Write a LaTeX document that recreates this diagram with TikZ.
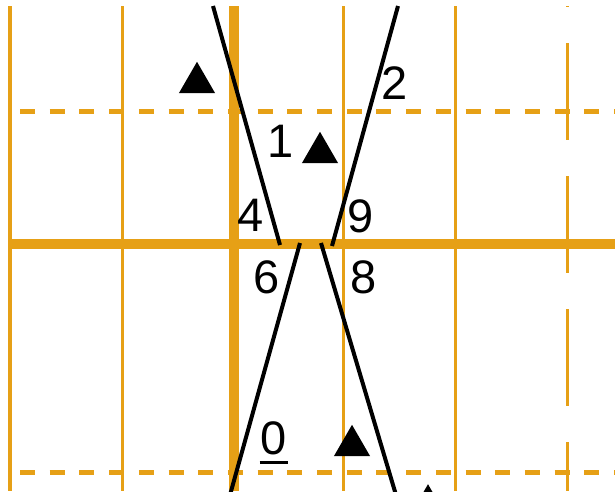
\documentclass[tikz,border=0pt]{standalone}
\usepackage{fontspec}
\setmainfont{Liberation Sans}
\usetikzlibrary{shapes.geometric}
\definecolor{gridor}{RGB}{230,160,22}
\begin{document}
\begin{tikzpicture}[x=1pt,y=-1pt,
  thinv/.style={gridor,line width=3pt},
  edgev/.style={gridor,line width=4pt},
  thickl/.style={gridor,line width=10pt},
  dashl/.style={gridor,line width=5pt,dash pattern=on 15pt off 14.7pt},
  longdash/.style={gridor,line width=3pt,dash pattern=on 97pt off 36pt,dash phase=96pt},
  blk/.style={black,line width=4pt},
  lbl/.style={font=\fontsize{47}{47}\selectfont,inner sep=0pt,text=black},
  tri/.style={regular polygon,regular polygon sides=3,fill=black,draw=none,inner sep=0pt,outer sep=0pt,minimum size=41.6pt}]
\useasboundingbox (0,0) rectangle (615,491);
\clip (0,0) rectangle (615,491);
% grid
\draw[edgev] (10,6) -- (10,491);
\draw[thinv] (122,6) -- (122,491);
\draw[thinv] (343,6) -- (343,491);
\draw[thinv] (455,6) -- (455,491);
\draw[longdash] (567,6) -- (567,491);
\draw[dashl] (20,111.5) -- (615,111.5);
\draw[dashl] (20,472) -- (615,472);
\draw[thickl] (234,6) -- (234,491);
\draw[thickl] (8,243.5) -- (615,243.5);
% black lines
\coordinate (a1) at (213,6);   \coordinate (a2) at (280,245);
\coordinate (b1) at (398,6);   \coordinate (b2) at (332,246);
\coordinate (c1) at (300,243); \coordinate (c2) at (230,495);
\coordinate (d1) at (321,243); \coordinate (d2) at (396,495);
\draw[blk] (a1) -- (a2);
\draw[blk] (b1) -- (b2);
\draw[blk] (c1) -- (c2);
\draw[blk] (d1) -- (d2);
% triangles
\node[tri] (t1) at (197,82.6) {};
\node[tri] (t2) at (320,152.6) {};
\node[tri] (t3) at (352,445.6) {};
\node[tri] (t4) at (428,505) {};
% labels
\node[lbl] (l1) at (281,141) {1};
\node[lbl] (l2) at (395,83) {2};
\node[lbl] (l4) at (251,215) {4};
\node[lbl] (l9) at (361,216) {9};
\node[lbl] (l6) at (267,277) {6};
\node[lbl] (l8) at (364,277) {8};
\node[lbl] (l0) at (274,438) {0};
\draw[black,line width=2.6pt] ([xshift=-1pt,yshift=-7.5pt]l0.south west) -- ([xshift=1pt,yshift=-7.5pt]l0.south east);
\end{tikzpicture}
\end{document}
